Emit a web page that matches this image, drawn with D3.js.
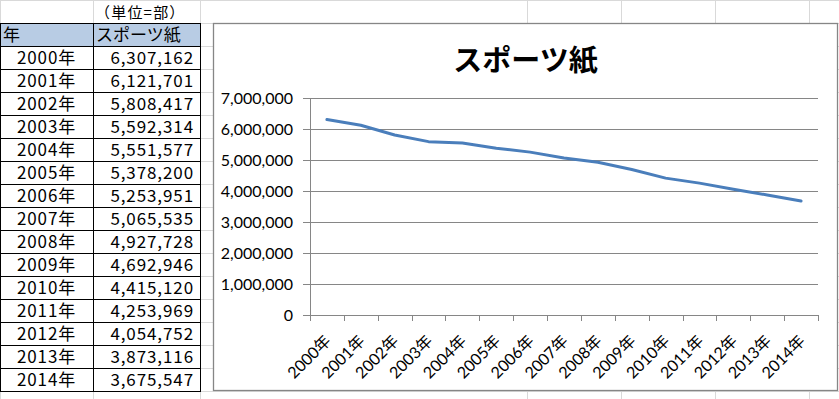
<!DOCTYPE html>
<html>
<head>
<meta charset="utf-8">
<script src="https://cdn.jsdelivr.net/npm/d3@7"></script>
<style>
  body { margin: 0; background: #fff; }
  svg { display: block; }
  .cell { font-family: "Noto Sans CJK JP", sans-serif; font-size: 17px; fill: #000; }
  .unit { font-size: 15px; letter-spacing: 1.2px; }
  .num { letter-spacing: 0.9px; }
  .axis text { font-family: Lato, "Noto Sans CJK JP", sans-serif; font-size: 16px; fill: #000; }
  .title { font-family: "Noto Sans CJK JP", sans-serif; font-size: 29px; font-weight: bold; }
</style>
</head>
<body>
<div id="sheet"></div>
<script>
// Data read from the sheet.
var years = ["2000年", "2001年", "2002年", "2003年", "2004年", "2005年", "2006年", "2007年",
  "2008年", "2009年", "2010年", "2011年", "2012年", "2013年", "2014年"];
var sales = [6307162, 6121701, 5808417, 5592314, 5551577, 5378200, 5253951, 5065535,
  4927728, 4692946, 4415120, 4253969, 4054752, 3873116, 3675547];
var yTicks = [0, 1000000, 2000000, 3000000, 4000000, 5000000, 6000000, 7000000];
var unitLabel = "（単位=部）";
var headers = ["年", "スポーツ紙"];
var chartTitle = "スポーツ紙";

var W = 839, H = 399;
var rowH = 23;
var colEdges = [0, 93, 200, 527, 621, 715, 809];

var fmt = d3.format(",");

var svg = d3.select("#sheet").append("svg")
  .attr("width", W)
  .attr("height", H);

svg.append("rect").attr("width", W).attr("height", H).attr("fill", "#fff");

// Spreadsheet gridlines.
var grid = svg.append("g").attr("stroke", "#d9d9d9").attr("shape-rendering", "crispEdges");
colEdges.forEach(function(x) {
  grid.append("line").attr("x1", x + 0.5).attr("x2", x + 0.5).attr("y1", 0).attr("y2", H);
});
d3.range(0, H, rowH).forEach(function(y) {
  grid.append("line").attr("x1", 0).attr("x2", W).attr("y1", y + 0.5).attr("y2", y + 0.5);
});

// Table.
var table = svg.append("g");
table.append("text").attr("class", "cell unit")
  .attr("x", 95).attr("y", 18)
  .text(unitLabel);

table.append("rect")
  .attr("x", 0.5).attr("y", rowH + 0.5)
  .attr("width", colEdges[2]).attr("height", rowH)
  .attr("fill", "#b8cce4");

table.append("text").attr("class", "cell").attr("x", 3).attr("y", rowH * 2 - 5).text(headers[0]);
table.append("text").attr("class", "cell").attr("x", 96).attr("y", rowH * 2 - 5).text(headers[1]);

years.forEach(function(yr, i) {
  var base = rowH * (i + 3) - 5;
  table.append("text").attr("class", "cell num")
    .attr("x", colEdges[1] / 2).attr("y", base)
    .attr("text-anchor", "middle")
    .text(yr);
  table.append("text").attr("class", "cell num")
    .attr("x", colEdges[2] - 6).attr("y", base)
    .attr("text-anchor", "end")
    .text(fmt(sales[i]));
});

// Table borders.
var borders = table.append("g").attr("stroke", "#000").attr("shape-rendering", "crispEdges");
var tableBottom = rowH * (years.length + 2);
d3.range(rowH, tableBottom + 1, rowH).forEach(function(y) {
  borders.append("line").attr("x1", 0).attr("x2", colEdges[2] + 1).attr("y1", y + 0.5).attr("y2", y + 0.5);
});
[0, colEdges[1], colEdges[2]].forEach(function(x) {
  borders.append("line").attr("x1", x + 0.5).attr("x2", x + 0.5).attr("y1", rowH).attr("y2", tableBottom + 1);
});

// Chart box.
var chart = { x: 213, y: 23, w: 624, h: 367 };
svg.append("rect")
  .attr("x", chart.x + 0.5).attr("y", chart.y + 0.5)
  .attr("width", chart.w).attr("height", chart.h)
  .attr("fill", "#fff")
  .attr("stroke", "#868686")
  .attr("stroke-width", 1.3);

svg.append("text").attr("class", "title")
  .attr("x", chart.x + chart.w / 2 + 0.5)
  .attr("y", 71)
  .attr("text-anchor", "middle")
  .text(chartTitle);

// Plot area.
var plot = { left: 310, right: 818, top: 98, bottom: 315 };

var yScale = d3.scaleLinear().domain([0, 7000000]).range([plot.bottom, plot.top]);
var xBand = d3.scaleBand().domain(years).range([plot.left, plot.right]).padding(0);
var xEdge = d3.scaleLinear().domain([0, years.length]).range([plot.left, plot.right]);

// Horizontal gridlines with labels.
var yAxis = d3.axisLeft(yScale)
  .tickValues(yTicks)
  .tickSize(plot.right - plot.left + 7)
  .tickPadding(10)
  .tickFormat(fmt);

var yG = svg.append("g")
  .attr("class", "axis")
  .attr("transform", "translate(" + plot.right + ",0)")
  .call(yAxis);
yG.select(".domain").remove();
yG.selectAll("line").attr("stroke", "#868686").attr("shape-rendering", "crispEdges");

// Vertical axis line.
svg.append("line")
  .attr("x1", plot.left + 0.5).attr("x2", plot.left + 0.5)
  .attr("y1", plot.top).attr("y2", plot.bottom)
  .attr("stroke", "#868686").attr("shape-rendering", "crispEdges");

// Category tick marks on the boundaries.
var xTickAxis = d3.axisBottom(xEdge)
  .tickValues(d3.range(years.length + 1))
  .tickSize(6)
  .tickSizeOuter(0)
  .tickFormat("");
var xG = svg.append("g")
  .attr("class", "axis")
  .attr("transform", "translate(0," + plot.bottom + ")")
  .call(xTickAxis);
xG.selectAll("line, path").attr("stroke", "#868686").attr("shape-rendering", "crispEdges");

// Rotated category labels.
svg.append("g").attr("class", "axis")
  .selectAll("text")
  .data(years)
  .enter().append("text")
  .attr("text-anchor", "end")
  .attr("transform", function(d) {
    var cx = xBand(d) + xBand.bandwidth() / 2 + 5;
    return "translate(" + cx + "," + (plot.bottom + 27) + ") rotate(-45)";
  })
  .text(function(d) { return d; });

// The series line.
var line = d3.line()
  .x(function(d, i) { return xBand(years[i]) + xBand.bandwidth() / 2; })
  .y(function(d) { return yScale(d); });

svg.append("path")
  .datum(sales)
  .attr("d", line)
  .attr("fill", "none")
  .attr("stroke", "#4a7ebb")
  .attr("stroke-width", 3)
  .attr("stroke-linejoin", "round")
  .attr("stroke-linecap", "round");
</script>
</body>
</html>
